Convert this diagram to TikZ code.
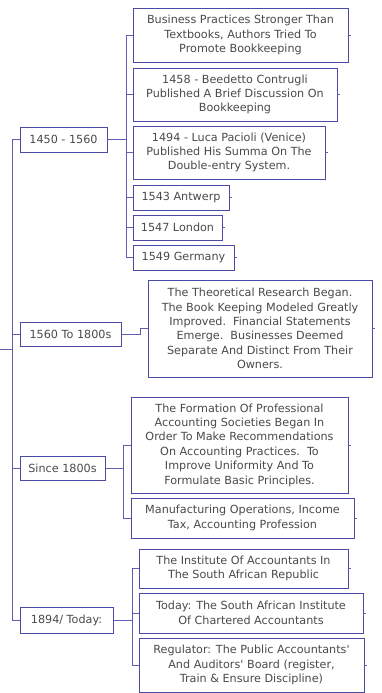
\documentclass[tikz,border=0pt]{standalone}
\usepackage{fontspec}
\setmainfont{DejaVu Sans}
\definecolor{boxc}{HTML}{4A4AA6}
\definecolor{linec}{HTML}{5E5EB4}
\definecolor{txtc}{HTML}{4A4A4A}
\begin{document}
\begin{tikzpicture}[x=1pt,y=-1pt,
  box/.style={draw=boxc,line width=0.9pt,fill=white,text=txtc,align=center,
    inner sep=0pt,font=\fontsize{11.2}{14.4}\selectfont},
  conn/.style={draw=linec,line width=0.9pt},
  tick/.style={draw=linec,line width=0.8pt}]
\useasboundingbox (0,0) rectangle (382,693);
% parents
\node[box,minimum width=87pt,minimum height=25pt] (r1) at (63.5,139.5) {1450 - 1560};
\node[box,minimum width=101pt,minimum height=24pt] (r2) at (70.5,334) {1560 To 1800s};
\node[box,minimum width=85pt,minimum height=24pt] (r3) at (62.5,468) {Since 1800s};
\node[box,minimum width=93pt,minimum height=26pt] (r4) at (66.5,620) {1894/ Today:};
% children of r1
\node[box,minimum width=215pt,minimum height=54pt] (a1) at (240.5,35) {Business Practices Stronger Than\\Textbooks, Authors Tried To\\Promote Bookkeeping};
\node[box,minimum width=204pt,minimum height=53pt] (a2) at (235,94.5) {1458 - Beedetto Contrugli\\Published A Brief Discussion On\\Bookkeeping};
\node[box,minimum width=192pt,minimum height=53pt] (a3) at (229,152.5) {1494 - Luca Pacioli (Venice)\\Published His Summa On The\\Double-entry System.};
\node[box,minimum width=96pt,minimum height=25pt] (a4) at (181,197.5) {1543 Antwerp};
\node[box,minimum width=89pt,minimum height=25pt] (a5) at (177.5,227.5) {1547 London};
\node[box,minimum width=101pt,minimum height=25pt] (a6) at (183.5,257.5) {1549 Germany};
% child of r2
\node[box,minimum width=224pt,minimum height=97pt] (b1) at (260,328.5) {The Theoretical Research Began.\\The Book Keeping Modeled Greatly\\Improved.\ \ Financial Statements\\Emerge.\ \ Businesses Deemed\\Separate And Distinct From Their\\Owners.};
% children of r3
\node[box,minimum width=217pt,minimum height=96pt] (c1) at (239.5,445) {The Formation Of Professional\\Accounting Societies Began In\\Order To Make Recommendations\\On Accounting Practices.\ \ To\\Improve Uniformity And To\\Formulate Basic Principles.};
\node[box,minimum width=223pt,minimum height=40pt] (c2) at (242.5,518) {Manufacturing Operations, Income\\Tax, Accounting Profession};
% children of r4
\node[box,minimum width=209pt,minimum height=39pt] (d1) at (243.5,568.5) {The Institute Of Accountants In\\The South African Republic};
\node[box,minimum width=224pt,minimum height=40pt] (d2) at (251,613) {Today: The South African Institute\\Of Chartered Accountants};
\node[box,minimum width=225pt,minimum height=54pt] (d3) at (251.5,665) {Regulator: The Public Accountants\textquotesingle\\And Auditors\textquotesingle\ Board (register,\\Train \& Ensure Discipline)};
% trunk
\coordinate (root) at (0,349);
\coordinate (t1) at (12,139.5);
\coordinate (t4) at (12,620);
\draw[conn] (root) -- (12,349);
\draw[conn] (r1.west) -- (t1) -- (t4) -- (r4.west);
\draw[conn] (r2.west) -- (12,334);
\draw[conn] (r3.west) -- (12,468);
% r1 branch
\draw[conn] (r1.east) -- (126,139.5) coordinate (j1);
\foreach \c in {a1,a2,a3,a4,a5,a6} \draw[conn] (j1) |- (\c.west);
% r2 branch
\draw[conn] (r2.east) -- (140,334) coordinate (j2) |- (b1.west);
% r3 branch
\draw[conn] (r3.east) -- (123,468) coordinate (j3);
\foreach \c in {c1,c2} \draw[conn] (j3) |- (\c.west);
% r4 branch
\draw[conn] (r4.east) -- (132,620) coordinate (j4);
\foreach \c in {d1,d2,d3} \draw[conn] (j4) |- (\c.west);
% right ticks
\foreach \c in {a1,a2,a3,a4,a5,a6,b1,c1,c2,d1,d2,d3} \draw[tick] (\c.east) -- ++(3,0);
\end{tikzpicture}
\end{document}
